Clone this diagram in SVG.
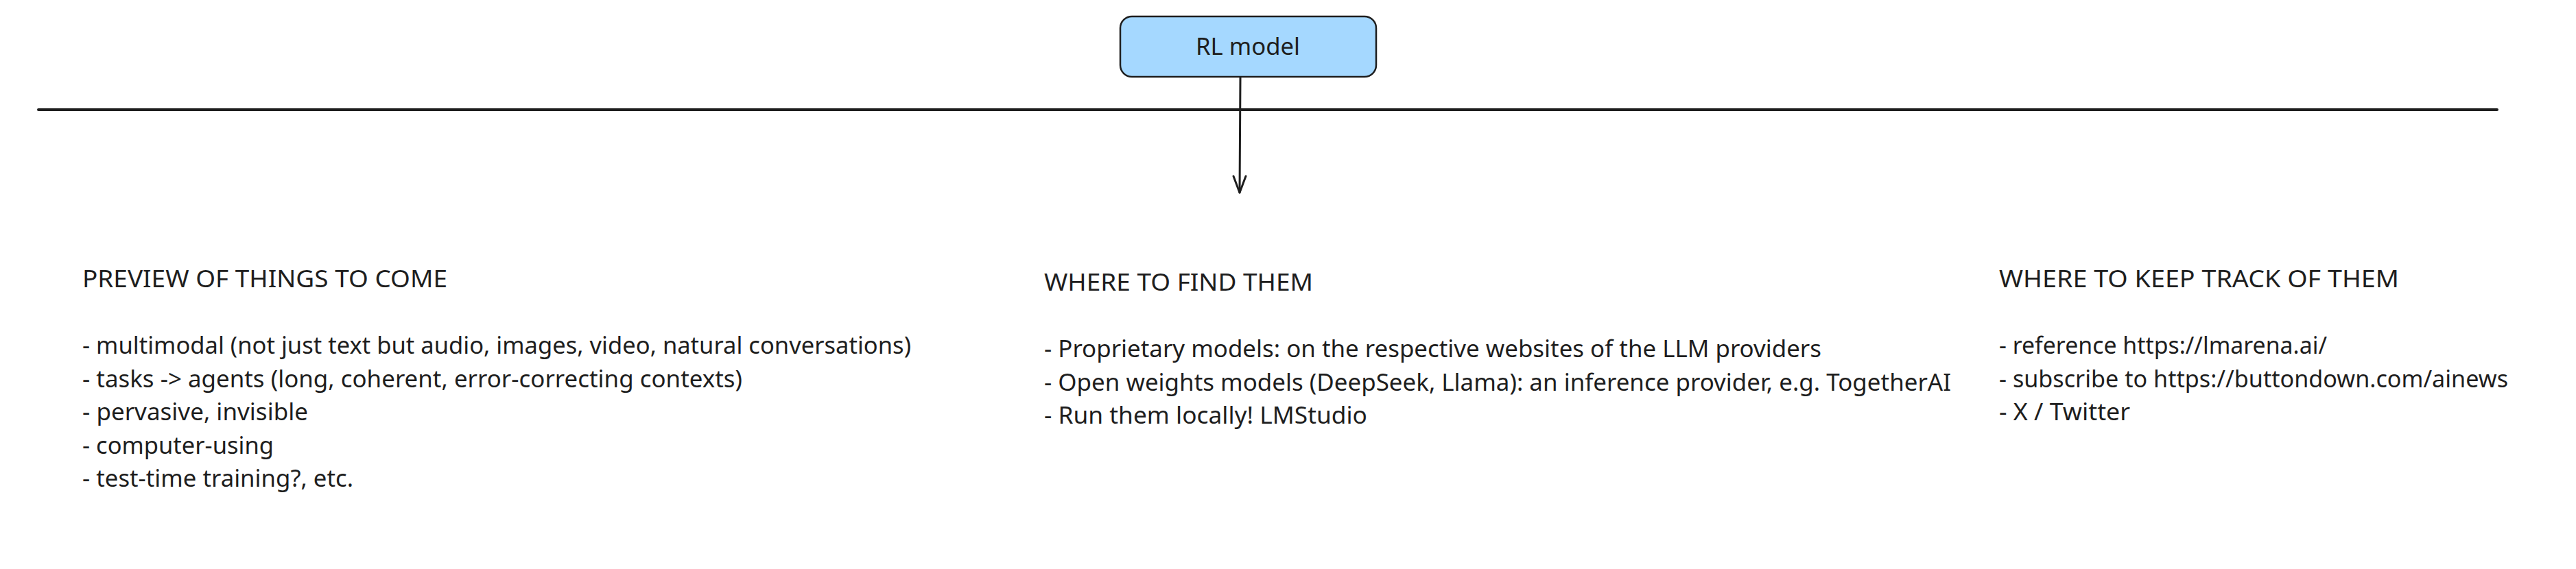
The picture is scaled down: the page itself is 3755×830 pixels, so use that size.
<svg xmlns="http://www.w3.org/2000/svg" width="3755" height="830" viewBox="0 0 3755 830">
<style>
text{font-family:"Noto Sans","Liberation Sans",sans-serif;fill:#1e1e1e;font-size:35px}
.edge{stroke:#1e1e1e;fill:none;stroke-linecap:round;stroke-linejoin:round}
</style>
<rect width="3755" height="830" fill="#ffffff"/>
<g id="divider">
<line x1="56" y1="160" x2="3640" y2="160" class="edge" stroke-width="4"/>
</g>
<g id="connectors">
<path d="M1808 113 L1807 281" class="edge" stroke-width="3"/>
<path d="M1798 257 L1807 281 L1816 257" class="edge" stroke-width="3"/>
</g>
<g id="rl-model">
<rect x="1633" y="24" width="373" height="88" rx="17" ry="17" fill="#a5d8ff" stroke="#1e1e1e" stroke-width="2.5"/>
<text x="1819" y="80" text-anchor="middle" font-size="36" textLength="152" lengthAdjust="spacingAndGlyphs">RL model</text>
</g>
<g id="preview">
<text x="120" y="419" textLength="532" lengthAdjust="spacingAndGlyphs">PREVIEW OF THINGS TO COME</text>
<text x="120" y="516" textLength="1208" lengthAdjust="spacingAndGlyphs">- multimodal (not just text but audio, images, video, natural conversations)</text>
<text x="120" y="564.5" textLength="962" lengthAdjust="spacingAndGlyphs">- tasks -&gt; agents (long, coherent, error-correcting contexts)</text>
<text x="120" y="613" textLength="329" lengthAdjust="spacingAndGlyphs">- pervasive, invisible</text>
<text x="120" y="661.5" textLength="279" lengthAdjust="spacingAndGlyphs">- computer-using</text>
<text x="120" y="710" textLength="395" lengthAdjust="spacingAndGlyphs">- test-time training?, etc.</text>
</g>
<g id="find">
<text x="1522" y="424" textLength="392" lengthAdjust="spacingAndGlyphs">WHERE TO FIND THEM</text>
<text x="1522" y="521" textLength="1133" lengthAdjust="spacingAndGlyphs">- Proprietary models: on the respective websites of the LLM providers</text>
<text x="1522" y="569.5" textLength="1322" lengthAdjust="spacingAndGlyphs">- Open weights models (DeepSeek, Llama): an inference provider, e.g. TogetherAI</text>
<text x="1522" y="618" textLength="471" lengthAdjust="spacingAndGlyphs">- Run them locally! LMStudio</text>
</g>
<g id="track">
<text x="2914" y="419" textLength="583" lengthAdjust="spacingAndGlyphs">WHERE TO KEEP TRACK OF THEM</text>
<text x="2914" y="516" textLength="478" lengthAdjust="spacingAndGlyphs">- reference https://lmarena.ai/</text>
<text x="2914" y="564.5" textLength="742" lengthAdjust="spacingAndGlyphs">- subscribe to https://buttondown.com/ainews</text>
<text x="2914" y="613" textLength="191" lengthAdjust="spacingAndGlyphs">- X / Twitter</text>
</g>
</svg>
